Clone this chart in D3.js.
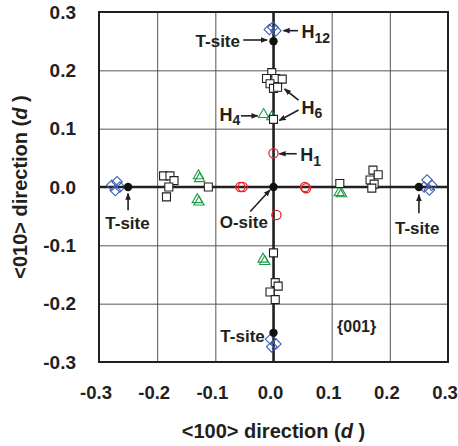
<!DOCTYPE html>
<html><head><meta charset="utf-8">
<script src="https://cdn.jsdelivr.net/npm/d3@7/dist/d3.min.js"></script>
<style>
body{margin:0;background:#fff;}
text{font-family:"Liberation Sans",Arial,sans-serif;font-weight:bold;fill:#231f20;}
</style></head>
<body>
<svg id="c" width="458" height="446"></svg>
<script>
// ---- data ----
const xTicks = [-0.3,-0.2,-0.1,0.0,0.1,0.2,0.3];
const yTicks = [-0.3,-0.2,-0.1,0.0,0.1,0.2,0.3];
const tSiteX = [0, 0, -0.25, 0.25];
const tSiteY = [0.25, -0.25, 0, 0];
const oSiteX = [0];
const oSiteY = [0];
// H1 (red circles)
const h1 = [[0,0.058],[-0.057,0.0],[-0.053,0.0],[0.054,0.0],[0.056,-0.002],[0.005,-0.048]];
// H4 (green triangles)
const h4 = [[-0.017,0.126],[-0.003,0.122],[-0.129,0.021],[-0.127,0.016],[-0.131,-0.020],[-0.128,-0.024],
            [0.113,-0.008],[0.117,-0.010],[-0.018,-0.122],[-0.015,-0.126]];
// H6 (open squares)
const h6 = [[-0.003,0.196],[-0.012,0.186],[0.004,0.186],[0.015,0.185],[-0.006,0.177],[0.0,0.169],[0.007,0.171],[0.0,0.116],
            [0.171,0.029],[0.180,0.021],[0.166,0.012],[0.173,0.005],[0.169,-0.002],[0.114,0.006],
            [-0.189,0.019],[-0.178,0.019],[-0.171,0.011],[-0.180,0.0],[-0.184,-0.017],[-0.112,0.0],
            [0.0,-0.113],[0.003,-0.164],[0.008,-0.170],[-0.006,-0.180],[0.003,-0.193]];
// H12 (blue diamonds)
const h12 = [[-0.007,0.270],[-0.001,0.274],[0.004,0.268],
             [-0.005,-0.261],[0.004,-0.269],[-0.003,-0.274],
             [0.264,0.012],[0.272,0.003],[0.268,-0.005],[0.259,0.0],
             [-0.278,0.003],[-0.269,0.009],[-0.264,0.0],[-0.272,-0.006]];
// labels (data coords)
const labelText = ["T-site","T-site","T-site","T-site","O-site","{001}"];
const labelX    = [-0.0576, -0.251, 0.247, -0.015, -0.051, 0.143];
const labelY    = [0.250, -0.062, -0.070, -0.256, -0.060, -0.238];
const labelAnchor = ["end","middle","middle","end","middle","middle"];
const hLabelMain = ["H","H","H","H"];
const hLabelSub  = ["12","6","4","1"];
const hLabelX    = [0.048, 0.048, -0.093, 0.046];
const hLabelY    = [0.266, 0.137, 0.125, 0.055];
// arrows: [x1,y1,x2,y2] in data coords
const arrows = [[-0.052,0.252,-0.011,0.252],[0.042,0.268,0.017,0.268],
                [0.043,0.149,0.019,0.168],[0.043,0.132,0.010,0.114],
                [-0.056,0.122,-0.027,0.122],[0.040,0.057,0.010,0.057],
                [-0.040,-0.042,-0.006,-0.005],[-0.25,-0.040,-0.25,-0.011],[0.25,-0.045,0.25,-0.013]];

// ---- chart ----
const L=99, R=448, T=12, B=362;
const svg = d3.select("#c");
const x = d3.scaleLinear().domain([-0.3,0.3]).range([L,R]);
const y = d3.scaleLinear().domain([-0.3,0.3]).range([B,T]);

const fmt = d => d.toFixed(1);
// grid
svg.append("g").attr("transform",`translate(0,${B})`)
  .call(d3.axisBottom(x).tickValues(xTicks).tickSize(-(B-T)).tickFormat(""))
  .call(g=>{g.select(".domain").remove();g.selectAll("line").attr("stroke","#555").attr("stroke-width",1);});
svg.append("g").attr("transform",`translate(${L},0)`)
  .call(d3.axisLeft(y).tickValues(yTicks).tickSize(-(R-L)).tickFormat(""))
  .call(g=>{g.select(".domain").remove();g.selectAll("line").attr("stroke","#555").attr("stroke-width",1);});
// tick labels
svg.append("g").attr("transform",`translate(0,${B})`)
  .call(d3.axisBottom(x).tickValues(xTicks).tickSize(0).tickPadding(24).tickFormat(fmt))
  .call(g=>{g.select(".domain").remove();g.selectAll("text").attr("font-size",18.5).attr("fill","#231f20").attr("dx",-3.5)
    .attr("font-family","Liberation Sans, Arial, sans-serif").attr("font-weight","bold");});
svg.append("g").attr("transform",`translate(${L},0)`)
  .call(d3.axisLeft(y).tickValues(yTicks).tickSize(0).tickPadding(23).tickFormat(fmt))
  .call(g=>{g.select(".domain").remove();g.selectAll("text").attr("font-size",19).attr("fill","#231f20")
    .attr("font-family","Liberation Sans, Arial, sans-serif").attr("font-weight","bold");});
// zero lines
svg.append("line").attr("x1",x(0)).attr("x2",x(0)).attr("y1",T).attr("y2",B).attr("stroke","#231f20").attr("stroke-width",2.5);
svg.append("line").attr("x1",L).attr("x2",R).attr("y1",y(0)).attr("y2",y(0)).attr("stroke","#231f20").attr("stroke-width",2.5);

// markers
const tri = d3.symbol().type(d3.symbolTriangle).size(46);
svg.append("g").selectAll("path").data(h4).join("path")
  .attr("d",tri).attr("transform",d=>`translate(${x(d[0])},${y(d[1])+1})`)
  .attr("fill","none").attr("stroke","#1f9a48").attr("stroke-width",1.1);
svg.append("g").selectAll("circle").data(h1).join("circle")
  .attr("cx",d=>x(d[0])).attr("cy",d=>y(d[1])).attr("r",4.6)
  .attr("fill","none").attr("stroke","#e8232a").attr("stroke-width",1.3);
const dia = d3.symbol().type(d3.symbolSquare).size(56);
svg.append("g").selectAll("path").data(h12).join("path")
  .attr("d",dia).attr("transform",d=>`translate(${x(d[0])},${y(d[1])}) rotate(45)`)
  .attr("fill","none").attr("stroke","#3d5fb5").attr("stroke-width",1.1);
const sq = d3.symbol().type(d3.symbolSquare).size(64);
svg.append("g").selectAll("path").data(h6).join("path")
  .attr("d",sq).attr("transform",d=>`translate(${x(d[0])},${y(d[1])})`)
  .attr("fill","#fff").attr("stroke","#231f20").attr("stroke-width",1.1);
// sites
svg.append("g").selectAll("circle").data(d3.range(tSiteX.length)).join("circle")
  .attr("cx",i=>x(tSiteX[i])).attr("cy",i=>y(tSiteY[i])).attr("r",4.2).attr("fill","#111");
svg.append("g").selectAll("circle").data(d3.range(oSiteX.length)).join("circle")
  .attr("cx",i=>x(oSiteX[i])).attr("cy",i=>y(oSiteY[i])).attr("r",4.2).attr("fill","#111");

// border
svg.append("rect").attr("x",L).attr("y",T).attr("width",R-L).attr("height",B-T)
  .attr("fill","none").attr("stroke","#231f20").attr("stroke-width",2);

// arrows
svg.append("defs").append("marker").attr("id","ah").attr("viewBox","0 0 10 10")
  .attr("refX",9).attr("refY",5).attr("markerWidth",7).attr("markerHeight",7)
  .attr("markerUnits","userSpaceOnUse").attr("orient","auto")
  .append("path").attr("d","M0,1 L10,5 L0,9 Z").attr("fill","#231f20");
svg.append("g").selectAll("line").data(arrows).join("line")
  .attr("x1",d=>x(d[0])).attr("y1",d=>y(d[1])).attr("x2",d=>x(d[2])).attr("y2",d=>y(d[3]))
  .attr("stroke","#231f20").attr("stroke-width",1.6).attr("marker-end","url(#ah)");

// labels
svg.append("g").selectAll("text").data(d3.range(labelText.length)).join("text")
  .attr("x",i=>x(labelX[i])).attr("y",i=>y(labelY[i])).attr("dy","0.36em")
  .attr("text-anchor",i=>labelAnchor[i]).attr("font-size",i=>i===5?16:17).text(i=>labelText[i]);
const hl = svg.append("g").selectAll("text").data(d3.range(hLabelMain.length)).join("text")
  .attr("x",i=>x(hLabelX[i])).attr("y",i=>y(hLabelY[i])).attr("dy","0.36em").attr("font-size",18);
hl.append("tspan").text(i=>hLabelMain[i]);
hl.append("tspan").attr("font-size",14).attr("dy","0.35em").text(i=>hLabelSub[i]);

// axis titles
const xt = svg.append("text").attr("x",(L+R)/2).attr("y",438).attr("text-anchor","middle").attr("font-size",20);
xt.append("tspan").text("<100> direction (");
xt.append("tspan").attr("font-style","italic").text("d");
xt.append("tspan").text(" )");
const yt = svg.append("text").attr("transform",`translate(27,${(T+B)/2}) rotate(-90)`).attr("text-anchor","middle").attr("font-size",20);
yt.append("tspan").text("<010> direction (");
yt.append("tspan").attr("font-style","italic").text("d");
yt.append("tspan").text(" )");
</script>
</body></html>
